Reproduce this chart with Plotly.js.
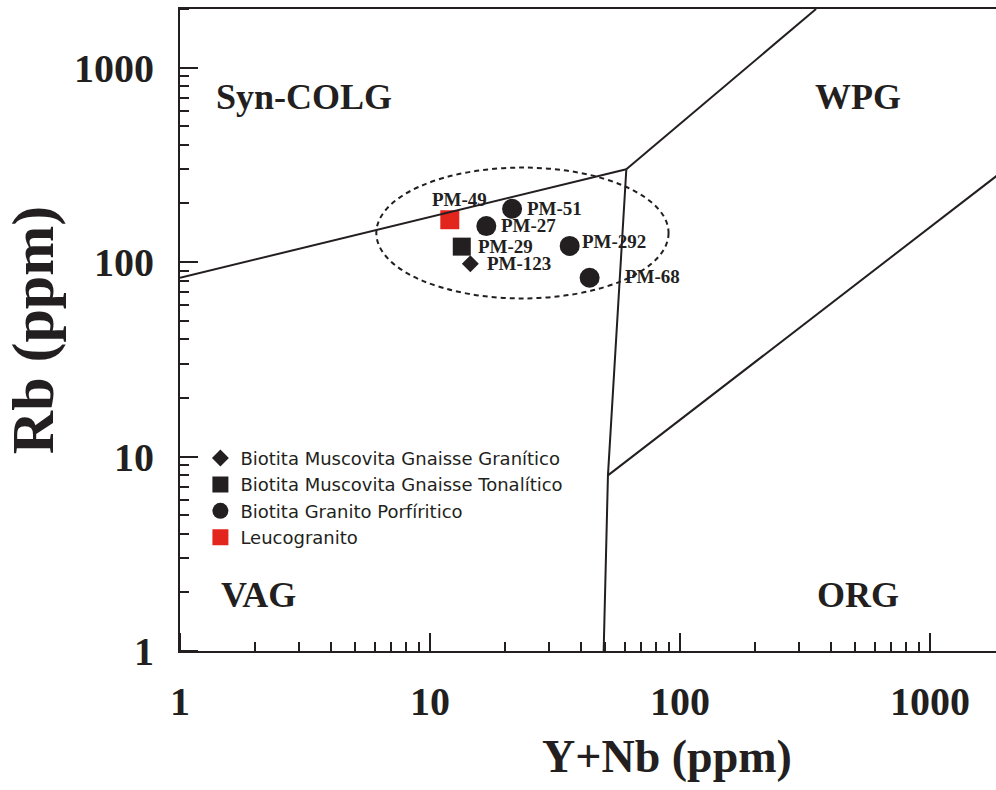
<!DOCTYPE html>
<html>
<head>
<meta charset="utf-8">
<script src="https://cdn.plot.ly/plotly-3.0.1.min.js"></script>
<style>html,body{margin:0;padding:0;background:#fff;}#chart{width:996px;height:790px;}</style>
</head>
<body>
<div id="chart"></div>
<script>
// ---- data ----
const granitoNames = ['PM-123'];
const granitoX = [14.5];
const granitoY = [98];

const tonalitoNames = ['PM-29'];
const tonalitoX = [13.4];
const tonalitoY = [120];

const porfiritoNames = ['PM-51', 'PM-27', 'PM-292', 'PM-68'];
const porfiritoX = [21.3, 16.8, 36.2, 43.5];
const porfiritoY = [188, 153, 121, 83];

const leucoNames = ['PM-49'];
const leucoX = [12.0];
const leucoY = [165];

const seriesNames = [
  'Biotita Muscovita Gnaisse Granítico',
  'Biotita Muscovita Gnaisse Tonalítico',
  'Biotita Granito Porfíritico',
  'Leucogranito'
];

// Pearce et al. (1984) field boundaries
const synVagX = [1, 61];
const synVagY = [83, 300];
const synWpgX = [61, 350];
const synWpgY = [300, 2000];
const vagSplitX = [61, 51.5, 49.5];
const vagSplitY = [300, 8, 1];
const wpgOrgX = [51.5, 2000];
const wpgOrgY = [8, 300];

// dashed field outline (bounding values)
const fieldX = [6.1, 90];
const fieldY = [65, 306];

const regionNames = ['Syn-COLG', 'WPG', 'VAG', 'ORG'];
const regionX = [3.13, 515, 2.07, 515];
const regionY = [705, 705, 1.94, 1.94];

const tickVals = [1, 10, 100, 1000];
const tickText = ['1', '10', '100', '1000'];

// ---- styling ----
const ink = '#231f20';
const red = '#e3261d';
const serif = 'Liberation Serif, Times New Roman, serif';
const xRange = [0, 3.264];
const yRange = [0, Math.log10(2000)];

function boundary(x, y, xa, ya) {
  return {x: x, y: y, xaxis: xa, yaxis: ya, mode: 'lines', type: 'scatter', showlegend: false,
          hoverinfo: 'skip', line: {color: ink, width: 2}};
}

const traces = [
  boundary(synVagX, synVagY, 'x2', 'y2'),
  boundary(synWpgX, synWpgY, 'x2', 'y2'),
  boundary(vagSplitX, vagSplitY, 'x3', 'y3'),
  boundary(wpgOrgX, wpgOrgY, 'x3', 'y3'),
  {x: granitoX, y: granitoY, text: granitoNames, name: seriesNames[0], mode: 'markers', type: 'scatter',
   marker: {symbol: 'diamond', size: 13, color: ink}},
  {x: tonalitoX, y: tonalitoY, text: tonalitoNames, name: seriesNames[1], mode: 'markers', type: 'scatter',
   marker: {symbol: 'square', size: 18, color: ink}},
  {x: porfiritoX, y: porfiritoY, text: porfiritoNames, name: seriesNames[2], mode: 'markers', type: 'scatter',
   marker: {symbol: 'circle', size: 20, color: ink}},
  {x: leucoX, y: leucoY, text: leucoNames, name: seriesNames[3], mode: 'markers', type: 'scatter',
   marker: {symbol: 'square', size: 19, color: red}}
];

// label offsets in px: [xshift, yshift, xanchor]
const labelOffsets = {
  'PM-123': [16, 0, 'left'],
  'PM-29': [15, 0, 'left'],
  'PM-51': [14, 0, 'left'],
  'PM-27': [14, 1, 'left'],
  'PM-292': [11, 4, 'left'],
  'PM-68': [34, 1, 'left'],
  'PM-49': [10, 20, 'center']
};

const annotations = [];
[[granitoNames, granitoX, granitoY], [tonalitoNames, tonalitoX, tonalitoY],
 [porfiritoNames, porfiritoX, porfiritoY], [leucoNames, leucoX, leucoY]].forEach(function (g) {
  g[0].forEach(function (name, i) {
    const off = labelOffsets[name];
    annotations.push({
      x: Math.log10(g[1][i]), y: Math.log10(g[2][i]), xref: 'x', yref: 'y',
      text: name, showarrow: false, xanchor: off[2], yanchor: 'middle',
      xshift: off[0], yshift: off[1], borderpad: 0,
      font: {family: serif, size: 19, color: ink, weight: 'bold'}
    });
  });
});
regionNames.forEach(function (name, i) {
  annotations.push({
    x: Math.log10(regionX[i]), y: Math.log10(regionY[i]), xref: 'x', yref: 'y',
    text: name, showarrow: false, xanchor: 'center', yanchor: 'middle',
    font: {family: serif, size: 36, color: ink, weight: 'bold'}
  });
});
annotations.push({
  x: 0.597, y: -0.165, xref: 'paper', yref: 'paper', text: 'Y+Nb (ppm)',
  showarrow: false, xanchor: 'center', yanchor: 'middle',
  font: {family: serif, size: 46, color: ink, weight: 'bold'}
});

// label axes (carry the tick labels and the frame)
const labelAxis = {
  type: 'log', showgrid: false, zeroline: false,
  showline: true, linecolor: ink, linewidth: 2, mirror: true,
  ticks: '', tickmode: 'array', tickvals: tickVals, ticktext: tickText,
  tickfont: {family: serif, size: 40, color: ink, weight: 'bold'}
};
// overlay axes: short inside ticks at 2..9 of every decade
const minorTickAxis = {
  type: 'log', showgrid: false, zeroline: false, showticklabels: false,
  showline: false, mirror: 'ticks',
  ticks: '', tickmode: 'array', tickvals: tickVals,
  minor: {dtick: 'D1', ticks: 'inside', ticklen: 9, tickwidth: 2, tickcolor: ink, showgrid: false}
};
// overlay axes: long inside ticks at each decade
const majorTickAxis = {
  type: 'log', showgrid: false, zeroline: false, showticklabels: false,
  showline: false, mirror: 'ticks',
  ticks: '', tickmode: 'array', tickvals: [1e6],
  minor: {tickmode: 'array', tickvals: tickVals, ticks: 'inside', ticklen: 18, tickwidth: 2,
          tickcolor: ink, showgrid: false}
};

const layout = {
  width: 996, height: 790,
  margin: {l: 180, r: 0, t: 9, b: 139},
  paper_bgcolor: '#ffffff', plot_bgcolor: '#ffffff',
  showlegend: true,
  legend: {x: 0.025, y: 0.329, xanchor: 'left', yanchor: 'top', bgcolor: 'rgba(0,0,0,0)',
           font: {family: 'DejaVu Sans, sans-serif', size: 18, color: ink}},
  xaxis: Object.assign({}, labelAxis, {range: xRange, ticklabelstandoff: 14}),
  yaxis: Object.assign({}, labelAxis, {range: yRange, ticklabelstandoff: 16,
    title: {text: 'Rb (ppm)', standoff: 16, font: {family: serif, size: 60, color: ink, weight: 'bold'}}}),
  xaxis2: Object.assign({}, minorTickAxis, {range: xRange, overlaying: 'x', anchor: 'y2', side: 'bottom'}),
  yaxis2: Object.assign({}, minorTickAxis, {range: yRange, overlaying: 'y', anchor: 'x2', side: 'left'}),
  xaxis3: Object.assign({}, majorTickAxis, {range: xRange, overlaying: 'x', anchor: 'y3', side: 'bottom'}),
  yaxis3: Object.assign({}, majorTickAxis, {range: yRange, overlaying: 'y', anchor: 'x3', side: 'left'}),
  shapes: [{type: 'circle', xref: 'x', yref: 'y', x0: fieldX[0], x1: fieldX[1], y0: fieldY[0], y1: fieldY[1],
            line: {color: ink, width: 2, dash: '5px,4px'}}],
  annotations: annotations
};

Plotly.newPlot('chart', traces, layout, {displayModeBar: false});
</script>
</body>
</html>
